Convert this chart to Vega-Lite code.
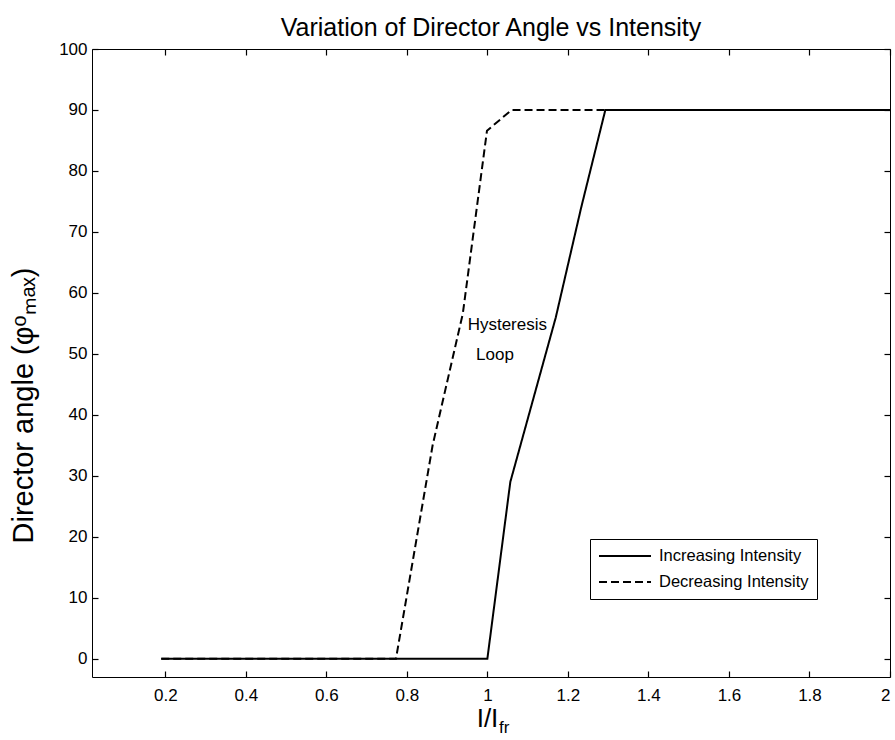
{
  "$schema": "https://vega.github.io/schema/vega-lite/v6.json",
  "width": 798,
  "height": 628,
  "autosize": {"type": "none"},
  "padding": {"left": 92, "top": 49, "right": 5, "bottom": 63},
  "background": "white",
  "config": {
    "font": "Liberation Sans",
    "view": {"stroke": "black", "strokeWidth": 1},
    "axis": {"grid": false, "domain": false, "offset": -6, "tickSize": 6, "tickWidth": 1.2, "ticks": true, "domainColor": "black", "tickColor": "black", "tickOpacity": 1, "labelColor": "black", "titleColor": "black", "labelFont": "Liberation Sans", "titleFont": "Liberation Sans", "titleFontWeight": "normal"},
    "title": {"font": "Liberation Sans", "fontWeight": "normal", "color": "black"}
  },
  "title": {"text": "Variation of Director Angle vs Intensity", "fontSize": 25, "offset": -1},
  "datasets": {
    "curves": [
      {"x": 0.19, "y": 0, "series": "Increasing Intensity"},
      {"x": 1.0, "y": 0, "series": "Increasing Intensity"},
      {"x": 1.057, "y": 29, "series": "Increasing Intensity"},
      {"x": 1.17, "y": 56, "series": "Increasing Intensity"},
      {"x": 1.233, "y": 74, "series": "Increasing Intensity"},
      {"x": 1.293, "y": 90, "series": "Increasing Intensity"},
      {"x": 2.0, "y": 90, "series": "Increasing Intensity"},
      {"x": 0.19, "y": 0, "series": "Decreasing Intensity"},
      {"x": 0.773, "y": 0, "series": "Decreasing Intensity"},
      {"x": 0.864, "y": 35, "series": "Decreasing Intensity"},
      {"x": 0.939, "y": 56.6, "series": "Decreasing Intensity"},
      {"x": 0.999, "y": 86.6, "series": "Decreasing Intensity"},
      {"x": 1.06, "y": 90, "series": "Decreasing Intensity"},
      {"x": 2.0, "y": 90, "series": "Decreasing Intensity"}
    ],
    "notes": [
      {"x": 0.951, "y": 54.7, "label": "Hysteresis"},
      {"x": 0.972, "y": 49.8, "label": "Loop"}
    ],
    "sub": [
      {"x": 1.029, "y": -3, "label": "fr"}
    ]
  },
  "layer": [
    {
      "data": {"name": "curves"},
      "mark": {"type": "line", "color": "black", "strokeWidth": 2, "clip": true},
      "encoding": {
        "x": {"field": "x", "type": "quantitative", "scale": {"domain": [0.018, 2], "nice": false, "zero": false},
              "axis": {"orient": "bottom", "values": [0.2, 0.4, 0.6, 0.8, 1, 1.2, 1.4, 1.6, 1.8, 2], "format": "~g", "labelFontSize": 17, "labelPadding": 10, "title": "I/I", "titleFontSize": 26, "titlePadding": 2, "titleX": 395}},
        "y": {"field": "y", "type": "quantitative", "scale": {"domain": [-3, 100], "nice": false, "zero": false},
              "axis": {"orient": "left", "values": [0, 10, 20, 30, 40, 50, 60, 70, 80, 90, 100], "labelFontSize": 17, "labelPadding": 5, "title": "Director angle (φᵒₘₐₓ)", "titleFontSize": 29, "titlePadding": 20, "titleY": 356}},
        "strokeDash": {"field": "series", "type": "nominal",
          "scale": {"domain": ["Increasing Intensity", "Decreasing Intensity"], "range": [[1, 0], [8, 4]]},
          "legend": {"title": null, "orient": "none", "legendX": 498, "legendY": 490, "symbolType": "stroke", "symbolSize": 2700, "symbolStrokeWidth": 2, "symbolStrokeColor": "black", "labelFontSize": 16.5, "labelColor": "black", "strokeColor": "black", "fillColor": "white", "padding": 8, "rowPadding": 8, "clipHeight": 18, "labelOffset": 7}}
      }
    },
    {
      "data": {"name": "notes"},
      "mark": {"type": "text", "align": "left", "baseline": "middle", "fontSize": 17, "color": "black"},
      "encoding": {
        "x": {"field": "x", "type": "quantitative", "axis": {"orient": "top", "values": [0.2, 0.4, 0.6, 0.8, 1, 1.2, 1.4, 1.6, 1.8, 2], "labels": false, "title": null}},
        "y": {"field": "y", "type": "quantitative", "axis": {"orient": "right", "values": [0, 10, 20, 30, 40, 50, 60, 70, 80, 90, 100], "labels": false, "title": null}},
        "text": {"field": "label"}
      }
    },
    {
      "data": {"name": "sub"},
      "mark": {"type": "text", "align": "left", "baseline": "middle", "fontSize": 17, "color": "black", "dy": 51},
      "encoding": {
        "x": {"field": "x", "type": "quantitative", "axis": null},
        "y": {"field": "y", "type": "quantitative", "axis": null},
        "text": {"field": "label"}
      }
    }
  ],
  "resolve": {"axis": {"x": "independent", "y": "independent"}}
}
